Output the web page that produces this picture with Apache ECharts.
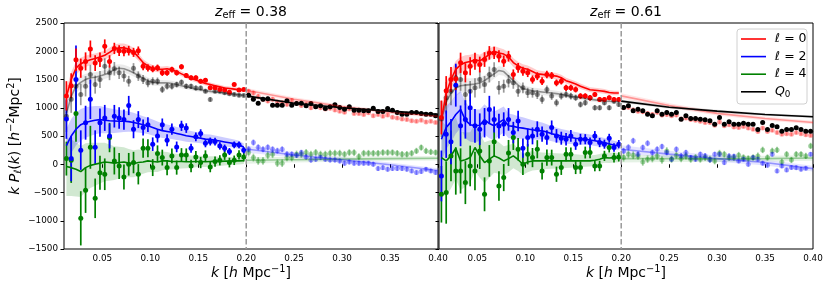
<!DOCTYPE html>
<html><head><meta charset="utf-8">
<script src="https://cdn.jsdelivr.net/npm/echarts@6/dist/echarts.min.js"></script>
<style>html,body{margin:0;padding:0;background:#fff}#c{width:830px;height:292px}</style>
</head><body><div id="c"></div><script>
// ---- k grids and ticks ----
const K_LOW=[0.0125,0.0175,0.0225,0.0275,0.0325,0.0375,0.0425,0.0475,0.0525,0.0575,0.0625,0.0675,0.0725,0.0775,0.0825,0.0875,0.0925,0.0975,0.1025,0.1075,0.1125,0.1175,0.1225,0.1275,0.1325,0.1375,0.1425,0.1475,0.1525,0.1575,0.1625,0.1675,0.1725,0.1775,0.1825,0.1875,0.1925,0.1975];
const K_HIGH=[0.2025,0.2075,0.2125,0.2175,0.2225,0.2275,0.2325,0.2375,0.2425,0.2475,0.2525,0.2575,0.2625,0.2675,0.2725,0.2775,0.2825,0.2875,0.2925,0.2975,0.3025,0.3075,0.3125,0.3175,0.3225,0.3275,0.3325,0.3375,0.3425,0.3475,0.3525,0.3575,0.3625,0.3675,0.3725,0.3775,0.3825,0.3875,0.3925,0.3975];
const K_HM=[0.20,0.25,0.30,0.35,0.40];
const X_TICKS=[0.05,0.10,0.15,0.20,0.25,0.30,0.35,0.40];
const K_CUT=0.20;
const Z_EFF=['0.38','0.61'];
const LEGEND_LABELS=['ℓ = 0','ℓ = 2','ℓ = 4','Q0'];

// ---- panel A : z_eff = 0.38 ----
const A_P0=[1210,1390,1850,1700,1820,2040,1790,1850,2090,1820,2050,2010,2000,2010,1980,2010,1735,1706,1688,1706,1618,1618,1676,1618,1724,1570,1529,1529,1470,1488,1353,1353,1323,1312,1276,1412,1312,1323];
const A_P0_ERR=[260,220,200,170,160,150,140,130,120,110,100,95,90,85,80,75,70,65,60,58,55,52,50,48,46,44,42,40,40,38,37,36,35,34,33,32,31,30];
const A_P0_M=[1200,1500,1700,1780,1820,1850,1870,1900,1930,1980,2040,2060,2060,2040,1990,1900,1800,1740,1700,1680,1680,1690,1670,1640,1600,1560,1520,1490,1460,1430,1410,1390,1370,1350,1340,1330,1320,1310];
const A_P0_B=[150,130,120,110,100,95,90,85,80,80,80,75,75,70,70,65,60,55,55,50,50,48,46,45,44,42,40,40,38,38,36,36,35,35,34,34,33,33];
const A_Q0L=[850,1150,1380,1235,1380,1590,1410,1500,1735,1618,1690,1618,1560,1470,1700,1560,1500,1440,1470,1470,1323,1380,1380,1410,1450,1380,1380,1350,1350,1294,1147,1294,1294,1265,1250,1235,1220,1218];
const A_Q0L_ERR=[280,240,220,190,180,170,160,150,140,130,120,110,100,95,90,85,80,75,70,66,62,58,55,52,50,48,46,44,42,40,39,38,37,36,35,34,33,32];
const A_Q0L_M=[900,1200,1380,1450,1500,1530,1540,1560,1590,1620,1680,1700,1690,1660,1620,1570,1520,1480,1450,1440,1440,1440,1430,1410,1390,1370,1350,1330,1320,1300,1290,1280,1270,1260,1250,1240,1230,1220];
const A_Q0L_B=[160,140,120,110,100,95,90,85,80,80,75,72,70,68,65,62,60,56,54,52,50,48,46,45,44,42,40,40,38,38,36,36,35,35,34,34,33,33];
const A_P2=[800,100,1500,250,735,1150,300,735,820,500,850,820,790,1040,620,790,650,700,355,500,700,425,620,307,680,640,284,485,544,372,402,402,325,284,225,343,343,248];
const A_P2_ERR=[350,400,600,350,300,350,300,250,230,220,200,190,180,170,160,150,140,130,120,115,110,105,100,95,90,85,80,78,75,72,70,68,66,64,62,60,58,56];
const A_P2_M=[330,500,620,700,740,760,780,790,780,770,765,760,760,755,740,720,700,680,650,620,595,580,565,545,525,505,490,475,460,445,440,425,410,395,380,365,345,300];
const A_P2_B=[300,300,290,280,270,260,250,240,230,220,210,200,190,180,170,160,150,145,140,135,130,125,120,115,110,105,100,95,90,88,85,82,80,77,75,72,70,68];
const A_P4=[100,70,900,-957,-461,300,-603,-150,-177,473,59,-30,-225,0,30,-177,284,284,-59,189,118,-59,148,-59,165,165,-30,130,30,148,-47,47,70,165,30,70,165,130];
const A_P4_ERR=[300,400,500,480,400,380,350,300,280,260,240,230,220,200,190,180,170,160,150,145,140,135,130,125,120,115,110,105,100,98,95,92,90,88,86,84,82,80];
const A_P4_M=[-40,-60,-90,-130,-60,-20,0,20,40,30,20,30,40,20,10,30,40,60,50,40,60,60,50,50,50,45,45,50,50,45,50,55,50,55,55,60,60,65];
const A_P4_B=[520,500,480,450,430,400,380,360,340,320,300,280,260,250,240,230,210,200,185,175,165,155,145,135,125,118,110,105,100,95,90,85,80,75,70,67,64,60];
const A_Q0H=[1223,1152,1081,1150,1160,1046,1046,1046,1123,1046,1075,1081,1034,1075,1016,1034,987,1016,1052,1005,975,1016,957,957,946,946,993,934,934,987,957,916,887,887,916,916,898,887,887,857];
const A_P0H=[1290,1260,1200,1150,1120,1150,1100,1090,1060,1130,1080,1040,1060,1000,1020,1000,980,990,960,940,920,980,900,900,880,910,860,880,850,870,830,820,800,790,770,760,780,750,760,740];
const A_P2H=[266,384,300,266,300,266,240,266,177,177,160,207,130,76,90,120,90,76,76,59,18,40,18,18,18,18,0,-77,-60,-90,-77,-77,-77,-90,-118,-148,-130,-90,-118,-148];
const A_P4H=[207,118,59,59,160,177,18,18,118,118,177,177,207,177,207,177,177,195,195,195,177,207,207,136,195,195,195,195,207,207,207,195,177,177,195,236,295,236,219,207];
const A_P0_HM=[1310,1150,1020,920,850], A_P0_HB=[40,35,32,30,30];
const A_Q0_HM=[1210,1080,1000,940,885], A_Q0_HB=[30,25,22,20,20];
const A_P2_HM=[270,165,80,-10,-110], A_P2_HB=[60,50,45,40,40];
const A_P4_HM=[70,80,90,100,105], A_P4_HB=[60,50,45,40,40];

// ---- panel B : z_eff = 0.61 ----
const B_P0=[828,1300,1500,1512,1795,1618,1735,1824,1765,1853,1971,1971,1912,1824,1912,1588,1706,1647,1618,1500,1559,1470,1588,1570,1441,1470,1353,1353,1323,1206,1206,1176,1235,1147,1147,1176,1147,1147];
const B_P0_ERR=[300,260,220,200,180,170,160,150,140,130,120,110,105,100,95,90,85,80,75,72,70,68,65,62,60,58,56,54,52,50,48,46,45,44,43,42,41,40];
const B_P0_M=[800,1250,1500,1680,1760,1800,1820,1850,1830,1880,1950,2000,1970,1950,1900,1800,1740,1700,1680,1640,1600,1590,1580,1570,1560,1530,1480,1450,1420,1380,1350,1320,1310,1300,1290,1270,1260,1260];
const B_P0_B=[200,180,160,150,140,130,120,115,110,105,100,95,90,85,80,78,75,72,70,68,65,62,60,58,56,54,52,50,50,48,46,45,44,43,42,41,40,40];
const B_Q0L=[800,1176,1294,1530,1500,1235,1294,1353,1500,1412,1588,1676,1353,1382,1470,1441,1294,1353,1264,1264,1235,1147,1323,1206,1088,1206,1235,1206,1176,1058,1088,1176,1000,1000,1088,1000,1117,1058];
const B_Q0L_ERR=[320,280,250,220,200,190,180,170,160,150,140,130,120,115,110,105,100,95,90,85,80,76,72,68,65,62,60,58,56,54,52,50,48,46,45,44,43,42];
const B_Q0L_M=[794,1100,1260,1350,1390,1400,1410,1420,1440,1480,1540,1600,1660,1640,1560,1480,1400,1340,1320,1300,1290,1280,1270,1260,1250,1240,1220,1200,1190,1180,1160,1150,1140,1130,1120,1115,1110,1110];
const B_Q0L_B=[200,180,160,140,130,120,110,105,100,95,90,85,80,75,72,70,68,65,62,60,58,56,54,52,50,48,46,45,44,43,42,41,40,40,39,38,38,37];
const B_P2=[-207,532,400,1400,680,794,1000,680,620,735,971,794,676,709,794,561,765,284,473,502,620,532,473,650,502,461,443,502,355,443,443,384,502,384,355,461,296,355];
const B_P2_ERR=[450,420,400,380,360,340,320,300,280,260,240,230,220,210,200,190,180,170,160,150,140,135,130,125,120,115,110,105,100,95,90,88,85,82,80,78,76,74];
const B_P2_M=[443,650,750,880,970,780,700,680,690,790,720,680,740,790,680,670,650,640,625,610,595,591,570,540,520,500,485,473,460,450,443,430,415,400,384,360,340,325];
const B_P2_B=[400,380,360,340,330,320,300,290,280,270,260,250,240,230,220,210,200,190,180,170,160,150,140,135,130,125,120,115,110,105,100,95,90,85,80,78,75,72];
const B_P4=[-532,-502,148,-118,-118,-325,-30,-118,236,-532,59,400,-384,-236,200,473,266,0,177,118,266,-118,118,118,-177,-59,177,177,-59,-59,207,207,-30,-30,148,296,118,130];
const B_P4_ERR=[500,550,450,420,400,380,360,340,320,300,280,270,260,240,230,220,200,190,180,170,160,150,145,140,135,130,125,120,115,110,105,100,95,92,90,88,85,82];
const B_P4_M=[118,59,150,284,59,80,118,296,150,30,90,148,110,59,100,148,80,0,40,59,59,59,60,59,59,59,59,59,60,60,60,60,70,90,118,110,118,118];
const B_P4_B=[650,620,580,550,520,480,450,420,390,360,330,300,280,260,240,220,200,190,180,170,160,150,145,140,135,130,125,120,115,110,105,100,95,92,90,88,85,82];
const B_Q0H=[1005,1034,946,975,946,887,857,946,887,916,887,916,798,857,810,810,798,786,768,709,827,709,751,709,709,727,709,709,615,739,615,686,662,585,615,615,645,615,585,585];
const B_P0H=[1000,1010,960,940,930,900,880,920,870,880,860,870,800,820,790,780,760,740,740,690,750,680,700,660,650,670,640,620,580,640,580,600,560,530,540,530,560,540,520,510];
const B_P2H=[236,300,414,177,295,372,207,266,313,207,89,266,148,207,118,89,177,150,76,177,177,30,148,140,59,89,0,118,90,18,-18,177,-118,-30,-100,-59,-60,-89,-70,177];
const B_P4H=[118,177,160,148,41,89,100,148,76,236,89,160,100,148,89,118,89,118,89,59,195,177,118,118,160,118,100,118,148,254,118,236,254,41,177,76,177,177,148,325];
const B_P0_HM=[1210,1040,900,810,740], B_P0_HB=[45,40,36,34,32];
const B_Q0_HM=[1117,1010,940,880,840], B_Q0_HB=[30,26,24,22,22];
const B_P2_HM=[266,180,100,30,-77], B_P2_HB=[70,60,55,50,50];
const B_P4_HM=[100,100,95,100,110], B_P4_HB=[70,60,55,50,50];

// ---- high-k error bars ----
const H_ERR_P0=[40,40,39,39,38,38,37,37,36,36,35,35,35,34,34,34,33,33,33,32,32,32,32,31,31,31,31,30,30,30,30,30,29,29,29,29,28,28,28,28];
const H_ERR_Q0=[36,36,35,35,34,34,34,33,33,33,32,32,32,31,31,31,30,30,30,30,29,29,29,29,28,28,28,28,27,27,27,27,26,26,26,26,25,25,25,25];
const H_ERR_P2=[55,55,54,54,53,53,52,52,51,51,50,50,49,49,48,48,47,47,46,46,46,45,45,45,44,44,44,43,43,43,42,42,42,41,41,41,40,40,40,40];
const H_ERR_P4=[70,70,69,69,68,68,67,67,66,66,65,65,64,64,63,63,62,62,61,61,60,60,60,59,59,59,58,58,58,57,57,57,56,56,56,55,55,55,55,55];

// ---------------- build ----------------
const FONT='DejaVu Sans';
const PANELS=[
 {p0:A_P0,p0e:A_P0_ERR,p0m:A_P0_M,p0b:A_P0_B,q0:A_Q0L,q0e:A_Q0L_ERR,q0m:A_Q0L_M,q0b:A_Q0L_B,
  p2:A_P2,p2e:A_P2_ERR,p2m:A_P2_M,p2b:A_P2_B,p4:A_P4,p4e:A_P4_ERR,p4m:A_P4_M,p4b:A_P4_B,
  q0h:A_Q0H,p0h:A_P0H,p2h:A_P2H,p4h:A_P4H,p0hm:A_P0_HM,p0hb:A_P0_HB,q0hm:A_Q0_HM,q0hb:A_Q0_HB,
  p2hm:A_P2_HM,p2hb:A_P2_HB,p4hm:A_P4_HM,p4hb:A_P4_HB},
 {p0:B_P0,p0e:B_P0_ERR,p0m:B_P0_M,p0b:B_P0_B,q0:B_Q0L,q0e:B_Q0L_ERR,q0m:B_Q0L_M,q0b:B_Q0L_B,
  p2:B_P2,p2e:B_P2_ERR,p2m:B_P2_M,p2b:B_P2_B,p4:B_P4,p4e:B_P4_ERR,p4m:B_P4_M,p4b:B_P4_B,
  q0h:B_Q0H,p0h:B_P0H,p2h:B_P2H,p4h:B_P4H,p0hm:B_P0_HM,p0hb:B_P0_HB,q0hm:B_Q0_HM,q0hb:B_Q0_HB,
  p2hm:B_P2_HM,p2hb:B_P2_HB,p4hm:B_P4_HM,p4hb:B_P4_HB}
];

function band(g,K,M,B,fill){
  return {type:'custom',xAxisIndex:g,yAxisIndex:g,clip:true,silent:true,
    data:[[K[0],M[0]]],encode:{x:0,y:1},
    renderItem:function(p,api){
      var up=[],lo=[];
      for(var i=0;i<K.length;i++){up.push(api.coord([K[i],M[i]+B[i]]));lo.push(api.coord([K[i],M[i]-B[i]]));}
      return {type:'polygon',shape:{points:up.concat(lo.reverse())},style:{fill:fill}};
    }};
}
function line(g,K,M,color,w){
  return {type:'line',xAxisIndex:g,yAxisIndex:g,silent:true,symbol:'none',showSymbol:false,
    data:K.map(function(k,i){return [k,M[i]];}),lineStyle:{color:color,width:w||1.6}};
}
function errs(g,K,V,E,color){
  return {type:'custom',xAxisIndex:g,yAxisIndex:g,clip:true,silent:true,
    data:K.map(function(k,i){return [k,V[i],E[i]];}),encode:{x:0,y:1},
    renderItem:function(p,api){
      var k=api.value(0),v=api.value(1),e=api.value(2);
      var a=api.coord([k,v-e]),b=api.coord([k,v+e]);
      return {type:'line',shape:{x1:a[0],y1:a[1],x2:b[0],y2:b[1]},style:{stroke:color,lineWidth:1.7}};
    }};
}
function dots(g,K,V,color){
  return {type:'scatter',xAxisIndex:g,yAxisIndex:g,silent:true,symbolSize:5,
    data:K.map(function(k,i){return [k,V[i]];}),itemStyle:{color:color,opacity:1}};
}
function vline(g){
  return {type:'custom',xAxisIndex:g,yAxisIndex:g,clip:true,silent:true,z:5,
    data:[[K_CUT,0]],encode:{x:0,y:1},
    renderItem:function(p,api){
      var a=api.coord([api.value(0),2500]),b=api.coord([api.value(0),-1500]);
      return {type:'line',shape:{x1:a[0],y1:a[1],x2:b[0],y2:b[1]},style:{stroke:'#999',lineWidth:1.5,lineDash:[5.5,2.5]}};
    }};
}
const RED='#ff0000',BLUE='#0000ff',GREEN='#008000';
const LRED='rgba(255,0,0,0.35)',LBLUE='rgba(0,0,255,0.35)',LGREEN='rgba(0,128,0,0.35)';
function panelSeries(g,d){
  var s=[];
  s.push(band(g,K_HM,d.p0hm,d.p0hb,'rgba(255,0,0,0.1)'));
  s.push(band(g,K_HM,d.q0hm,d.q0hb,'rgba(0,0,0,0.12)'));
  s.push(band(g,K_HM,d.p2hm,d.p2hb,'rgba(0,0,255,0.1)'));
  s.push(band(g,K_HM,d.p4hm,d.p4hb,'rgba(0,128,0,0.1)'));
  s.push(line(g,K_HM,d.p4hm,LGREEN));
  s.push(line(g,K_HM,d.p2hm,LBLUE));
  s.push(line(g,K_HM,d.p0hm,LRED));
  s.push(errs(g,K_HIGH,d.p4h,H_ERR_P4,LGREEN)); s.push(dots(g,K_HIGH,d.p4h,LGREEN));
  s.push(errs(g,K_HIGH,d.p2h,H_ERR_P2,LBLUE)); s.push(dots(g,K_HIGH,d.p2h,LBLUE));
  s.push(errs(g,K_HIGH,d.p0h,H_ERR_P0,LRED)); s.push(dots(g,K_HIGH,d.p0h,LRED));
  s.push(line(g,K_HM,d.q0hm,'#000'));
  s.push(errs(g,K_HIGH,d.q0h,H_ERR_Q0,'#000')); s.push(dots(g,K_HIGH,d.q0h,'#000'));
  s.push(band(g,K_LOW,d.q0m,d.q0b,'rgba(0,0,0,0.08)'));
  s.push(band(g,K_LOW,d.p4m,d.p4b,'rgba(0,128,0,0.18)'));
  s.push(band(g,K_LOW,d.p2m,d.p2b,'rgba(0,0,255,0.2)'));
  s.push(band(g,K_LOW,d.p0m,d.p0b,'rgba(255,0,0,0.2)'));
  s.push(line(g,K_LOW,d.q0m,'rgba(0,0,0,0.4)'));
  s.push(errs(g,K_LOW,d.q0,d.q0e,'rgba(0,0,0,0.4)')); s.push(dots(g,K_LOW,d.q0,'rgba(0,0,0,0.45)'));
  s.push(line(g,K_LOW,d.p4m,GREEN));
  s.push(errs(g,K_LOW,d.p4,d.p4e,GREEN)); s.push(dots(g,K_LOW,d.p4,GREEN));
  s.push(line(g,K_LOW,d.p2m,BLUE));
  s.push(errs(g,K_LOW,d.p2,d.p2e,BLUE)); s.push(dots(g,K_LOW,d.p2,BLUE));
  s.push(line(g,K_LOW,d.p0m,RED));
  s.push(errs(g,K_LOW,d.p0,d.p0e,RED)); s.push(dots(g,K_LOW,d.p0,RED));
  s.push(vline(g));
  return s;
}

const GRID_LEFT=[64,439];
const grids=GRID_LEFT.map(function(l){return {left:l,top:23,width:374,height:226,show:true,borderColor:'#000',borderWidth:1,backgroundColor:'transparent'};});
const xAxes=[0,1].map(function(g){return {type:'value',gridIndex:g,min:0.01,max:0.40,
  axisLine:{show:false},splitLine:{show:false},
  axisTick:{show:true,length:3.5,lineStyle:{color:'#000'},customValues:X_TICKS},
  axisLabel:{customValues:X_TICKS,color:'#000',fontFamily:FONT,fontSize:8.8,margin:5,
    formatter:function(v){return v.toFixed(2);}}};});
const yAxes=[0,1].map(function(g){return {type:'value',gridIndex:g,min:-1500,max:2500,interval:500,
  axisLine:{show:false},splitLine:{show:false},
  axisTick:{show:true,length:3.5,lineStyle:{color:'#000'}},
  axisLabel:{show:g===0,color:'#000',fontFamily:FONT,fontSize:8.8,margin:6,
    formatter:function(v){return String(v).replace('-','\u2212');}}};});

let series=[];
PANELS.forEach(function(d,g){series=series.concat(panelSeries(g,d));});

const rich={
  i:{fontFamily:FONT,fontStyle:'italic',fontSize:14,fill:'#000'},
  n:{fontFamily:FONT,fontSize:14,fill:'#000'},
  s:{fontFamily:FONT,fontSize:9.8,fill:'#000',padding:[7,0,0,0]},
  u:{fontFamily:FONT,fontSize:9.8,fill:'#000',padding:[0,0,8,0]}
};
const graphic=[];
[251,626].forEach(function(cx,g){
  graphic.push({type:'text',x:cx,y:12,silent:true,style:{text:'{i|z}{s|eff}{n| = '+Z_EFF[g]+'}',rich:rich,align:'center',verticalAlign:'middle'}});
  graphic.push({type:'text',x:cx,y:273,silent:true,style:{text:'{i|k}{n| [}{i|h}{n| Mpc}{u|\u22121}{n|]}',rich:rich,align:'center',verticalAlign:'middle'}});
});
graphic.push({type:'text',x:15,y:136,rotation:Math.PI/2,silent:true,
  style:{text:'{i|k P}{s|ℓ}{n|(}{i|k}{n|) [}{i|h}{u|\u22122}{n|Mpc}{u|2}{n|]}',rich:rich,align:'center',verticalAlign:'middle'}});
// legend
graphic.push({type:'rect',silent:true,shape:{x:737,y:29,width:70,height:75,r:3},style:{fill:'rgba(255,255,255,0.85)',stroke:'#d0d0d0',lineWidth:1},z:10});
const LEG_COLORS=[RED,BLUE,GREEN,'#000'];
const lrich={
  i:{fontFamily:FONT,fontStyle:'italic',fontSize:12.5,fill:'#000'},
  n:{fontFamily:FONT,fontSize:12.5,fill:'#000'},
  s:{fontFamily:FONT,fontSize:8.8,fill:'#000',padding:[6,0,0,0]}
};
LEGEND_LABELS.forEach(function(lab,i){
  var y=39+i*17.6;
  graphic.push({type:'line',silent:true,z:11,shape:{x1:741,y1:y,x2:766,y2:y},style:{stroke:LEG_COLORS[i],lineWidth:1.6}});
  var t = lab==='Q0' ? '{i|Q}{s|0}' : '{i|'+lab.charAt(0)+'}{n|'+lab.slice(1)+'}';
  graphic.push({type:'text',silent:true,z:11,x:775,y:y,style:{text:t,rich:lrich,align:'left',verticalAlign:'middle'}});
});

const chart=echarts.init(document.getElementById('c'),null,{renderer:'canvas'});
chart.setOption({animation:false,backgroundColor:'#fff',grid:grids,xAxis:xAxes,yAxis:yAxes,series:series,graphic:graphic});
</script></body></html>
